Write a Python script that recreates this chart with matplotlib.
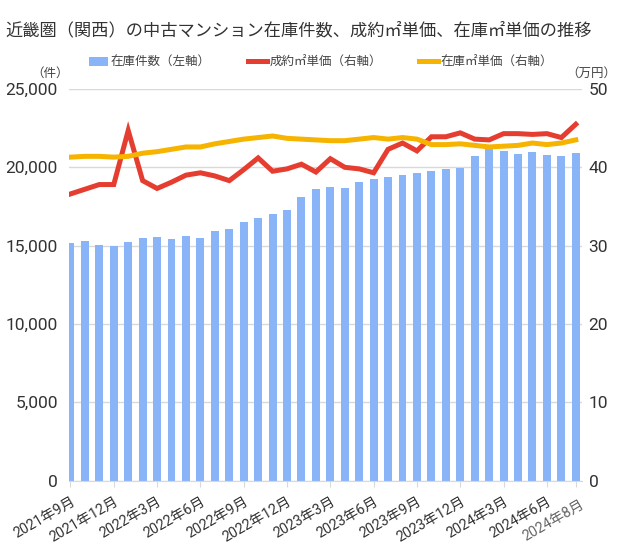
import matplotlib
matplotlib.use("Agg")
import matplotlib.pyplot as plt
from matplotlib.patches import Patch
from matplotlib.lines import Line2D
from matplotlib.transforms import ScaledTranslation

plt.rcParams["font.family"] = ["Roboto", "Noto Sans CJK JP", "DejaVu Sans"]

# 2021年9月 ～ 2024年8月 (月次)
months = [f"{y}年{m}月" for y, m in
          [(2021, 9), (2021, 10), (2021, 11), (2021, 12),
           (2022, 1), (2022, 2), (2022, 3), (2022, 4), (2022, 5), (2022, 6),
           (2022, 7), (2022, 8), (2022, 9), (2022, 10), (2022, 11), (2022, 12),
           (2023, 1), (2023, 2), (2023, 3), (2023, 4), (2023, 5), (2023, 6),
           (2023, 7), (2023, 8), (2023, 9), (2023, 10), (2023, 11), (2023, 12),
           (2024, 1), (2024, 2), (2024, 3), (2024, 4), (2024, 5), (2024, 6),
           (2024, 7), (2024, 8)]]

stock_count = [15150, 15300, 15050, 15000, 15240, 15510, 15560, 15450, 15620,
               15510, 15940, 16090, 16510, 16790, 17040, 17300, 18110, 18620,
               18750, 18700, 19090, 19280, 19390, 19530, 19660, 19790, 19920,
               19980, 20710, 21160, 21070, 20880, 21000, 20790, 20710, 20940]

contract_price = [36.6, 37.2, 37.8, 37.8, 44.7, 38.3, 37.3, 38.1, 39.0, 39.3,
                  38.9, 38.3, 39.7, 41.2, 39.5, 39.8, 40.4, 39.4, 41.1, 40.0,
                  39.8, 39.3, 42.3, 43.1, 42.1, 43.9, 43.9, 44.4, 43.6, 43.5,
                  44.3, 44.3, 44.2, 44.3, 43.8, 45.5]

stock_price = [41.3, 41.4, 41.4, 41.3, 41.4, 41.8, 42.0, 42.3, 42.6, 42.6,
               43.0, 43.3, 43.6, 43.8, 44.0, 43.7, 43.6, 43.5, 43.4, 43.4,
               43.6, 43.8, 43.6, 43.8, 43.6, 42.9, 42.9, 43.0, 42.8, 42.6,
               42.7, 42.8, 43.1, 42.9, 43.1, 43.5]

tick_idx = [0, 3, 6, 9, 12, 15, 18, 21, 24, 27, 30, 33, 35]

BLUE = "#8AB4F8"
RED = "#E53D2F"
YELLOW = "#F6B400"
GRID = "#D9D9D9"
TEXT = "#333333"

fig = plt.figure(figsize=(6.2, 5.45), dpi=100)
ax = fig.add_axes([0.1113, 0.1182, 0.8267, 0.7185])
ax2 = ax.twinx()

x = list(range(len(months)))
ax.bar(x, stock_count, width=0.55, color=BLUE, zorder=2)
ax2.plot(x, contract_price, color=RED, linewidth=3.6, solid_joinstyle="miter")
ax2.plot(x, stock_price, color=YELLOW, linewidth=3.6)

ax.set_xlim(-0.1, 35.4)
ax.set_ylim(0, 25000)
ax2.set_ylim(0, 50)
ax.set_yticks(range(0, 25001, 5000))
ax.set_yticklabels([f"{v:,}" for v in range(0, 25001, 5000)])
ax2.set_yticks(range(0, 51, 10))

ax.set_axisbelow(True)
ax.grid(axis="y", color=GRID, linewidth=1)
for a in (ax, ax2):
    for s in ("top", "left", "right"):
        a.spines[s].set_visible(False)
    a.spines["bottom"].set_color(GRID)
ax2.spines["bottom"].set_visible(False)

ax.tick_params(axis="y", length=0, labelsize=12.5, labelcolor=TEXT, pad=8)
ax2.tick_params(axis="y", length=0, labelsize=12.5, labelcolor=TEXT, pad=5)

ax.set_xticks(tick_idx)
ax.set_xticklabels([months[i] for i in tick_idx])
ax.tick_params(axis="x", length=4, color=GRID, labelsize=10.3,
               labelcolor=TEXT, pad=6)
for lbl in ax.get_xticklabels():
    lbl.set_rotation(30)
    lbl.set_ha("right")
    lbl.set_va("top")
    lbl.set_rotation_mode("anchor")
last = ax.get_xticklabels()[-1]
last.set_color("#666666")
last.set_transform(last.get_transform() +
                   ScaledTranslation(0.04, -0.03, fig.dpi_scale_trans))

fig.text(0.008, 0.945, "近畿圏（関西）の中古マンション在庫件数、成約㎡単価、在庫㎡単価の推移",
         fontsize=12.4, color=TEXT, va="center", ha="left")

handles = [Patch(facecolor=BLUE, edgecolor="none"),
           Line2D([], [], color=RED, linewidth=3.6),
           Line2D([], [], color=YELLOW, linewidth=3.6)]
labels = ["在庫件数（左軸）", "成約㎡単価（右軸）", "在庫㎡単価（右軸）"]
fig.legend(handles, labels, loc="center", bbox_to_anchor=(0.518, 0.886),
           ncol=3, frameon=False, fontsize=9, labelcolor="#444444",
           handlelength=1.5, handletextpad=0.2, columnspacing=3.0)

fig.text(0.081, 0.866, "（件）", fontsize=9, color="#444444",
         ha="center", va="center")
fig.text(0.994, 0.866, "（万円）", fontsize=9, color="#444444",
         ha="right", va="center")

fig.savefig("out.png", dpi=100)
